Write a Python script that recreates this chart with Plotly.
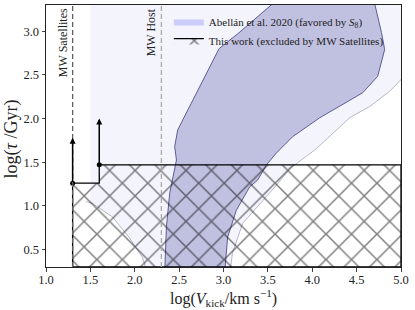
import plotly.graph_objects as go

# ---------------- data ----------------
x_range = [1.0, 5.0]
y_range = [0.3, 3.3]
x_ticks = [1.0, 1.5, 2.0, 2.5, 3.0, 3.5, 4.0, 4.5, 5.0]
y_ticks = [0.5, 1.0, 1.5, 2.0, 2.5, 3.0]

mw_sat_v = 1.3
mw_host_v = 2.3

# exclusion region (this work)
excl_x = [1.3, 1.3, 1.6, 1.6, 5.0, 5.0, 1.3]
excl_y = [0.3, 1.26, 1.26, 1.47, 1.47, 0.3, 0.3]

# lower limits (arrows)
arrow_x = [1.3, 1.6]
arrow_base = [1.26, 1.47]
arrow_top = [1.78, 2.0]

# Abellan et al. 2020 inner (favored) contour
fav_x = [2.33, 2.34, 2.357, 2.394, 2.47, 2.45, 2.484, 2.656, 2.80, 2.95, 3.16, 3.38, 3.56, 3.6,
         4.64, 4.70, 4.78, 4.816, 4.737, 4.568, 4.31, 4.083, 3.78, 3.596, 3.483, 3.385,
         3.295, 3.145, 3.047, 3.014, 3.01]
fav_y = [0.2, 0.30, 0.759, 1.146, 1.525, 1.678, 1.87, 2.215, 2.50, 2.80, 2.97, 3.16, 3.32, 3.4,
         3.4, 3.33, 2.985, 2.79, 2.483, 2.295, 2.138, 2.008, 1.793, 1.606, 1.468, 1.295,
         1.218, 0.95, 0.644, 0.30, 0.2]

# Abellan et al. 2020 outer (allowed) region
outer_x = [1.5, 1.5, 1.523, 1.748, 1.932, 2.086, 2.123, 2.15, 3.07, 3.08, 3.10, 3.216,
           3.596, 3.746, 4.047, 4.42, 4.647, 4.87, 5.04, 5.1, 5.1]
outer_y = [3.4, 1.03, 1.028, 0.874, 0.644, 0.414, 0.30, 0.2, 0.2, 0.30, 0.456, 0.80,
           1.236, 1.425, 1.655, 2.008, 2.138, 2.31, 2.48, 2.55, 3.4]
# outer contour edges (drawn as thin lines)
arc_x = [1.45, 1.523, 1.748, 1.932, 2.086, 2.123, 2.15]
arc_y = [1.05, 1.028, 0.874, 0.644, 0.414, 0.30, 0.2]
edge_x = [3.07, 3.08, 3.10, 3.216, 3.596, 3.746, 4.047, 4.42, 4.647, 4.87, 5.04, 5.1]
edge_y = [0.2, 0.30, 0.456, 0.80, 1.236, 1.425, 1.655, 2.008, 2.138, 2.31, 2.48, 2.55]

# ---------------- style ----------------
FONT = "Liberation Serif, DejaVu Serif, serif"
inner_fill = "rgb(192,192,224)"
inner_line = "rgb(92,92,150)"
outer_fill = "rgb(244,244,253)"
outer_line = "rgb(175,175,195)"

fig = go.Figure()

fig.add_trace(go.Scatter(x=outer_x, y=outer_y, fill="toself", fillcolor=outer_fill,
                         mode="none", hoverinfo="skip", showlegend=False))
fig.add_trace(go.Scatter(x=fav_x, y=fav_y, fill="toself", fillcolor=inner_fill,
                         mode="lines", line=dict(color=inner_line, width=1),
                         hoverinfo="skip", showlegend=False))
fig.add_trace(go.Scatter(x=arc_x + [None] + edge_x, y=arc_y + [None] + edge_y,
                         mode="lines", line=dict(color=outer_line, width=0.9),
                         hoverinfo="skip", showlegend=False))

# legend proxy for Abellan
fig.add_trace(go.Scatter(x=[None], y=[None], fill="toself", fillcolor="rgb(204,204,250)",
                         mode="lines", line=dict(width=0, color="rgb(204,204,250)"),
                         name="Abellán et al. 2020 (favored by <i>S</i><sub>8</sub>)"))

# dashed reference lines
fig.add_vline(x=mw_sat_v, line=dict(color="rgb(95,95,95)", width=1.3, dash="5px,3px"), layer="above")
fig.add_vline(x=mw_host_v, line=dict(color="rgb(170,170,170)", width=1.3, dash="5px,3px"), layer="above")

# hatched exclusion
fig.add_trace(go.Scatter(x=excl_x, y=excl_y, fill="toself", fillcolor="rgba(0,0,0,0)",
                         fillpattern=dict(shape="x", size=18, solidity=0.16, fgcolor="#000000",
                                          bgcolor="rgba(255,255,255,0)"),
                         mode="lines", line=dict(color="black", width=1.3),
                         name="This work (excluded by MW Satellites)"))

# lower-limit markers
fig.add_trace(go.Scatter(x=arrow_x, y=arrow_base, mode="markers",
                         marker=dict(color="black", size=5), showlegend=False, hoverinfo="skip"))
for xa, yb, yt in zip(arrow_x, arrow_base, arrow_top):
    fig.add_annotation(x=xa, y=yt, ax=xa, ay=yb, xref="x", yref="y", axref="x", ayref="y",
                       showarrow=True, arrowhead=2, arrowsize=0.8, arrowwidth=1.5,
                       arrowcolor="black", text="")

# labels
fig.add_annotation(x=mw_sat_v, y=1, xref="x", yref="paper", text="MW Satellites",
                   textangle=-90, showarrow=False, xanchor="right", yanchor="top",
                   xshift=-1, yshift=-1, font=dict(family=FONT, size=12, color="#222"))
fig.add_annotation(x=mw_host_v, y=1, xref="x", yref="paper", text="MW Host",
                   textangle=-90, showarrow=False, xanchor="right", yanchor="top",
                   xshift=-1, yshift=-1, font=dict(family=FONT, size=12, color="#222"))

# axis titles
fig.add_annotation(x=0.5, y=-0.118, xref="paper", yref="paper", showarrow=False,
                   text="log(<i>V</i><sub>kick</sub>/km s<sup>−1</sup>)",
                   xanchor="center", yanchor="middle", font=dict(family=FONT, size=16, color="#222"))
fig.add_annotation(x=-0.096, y=0.49, xref="paper", yref="paper", showarrow=False,
                   text="log(<i>τ</i> /Gyr)", textangle=-90,
                   xanchor="center", yanchor="middle", font=dict(family=FONT, size=18, color="#222"))

fig.update_layout(
    width=415, height=310,
    margin=dict(l=46, r=14, t=5, b=43),
    plot_bgcolor="white", paper_bgcolor="white",
    font=dict(family=FONT, size=12.5, color="#222"),
    legend=dict(x=0.346, y=0.992, xanchor="left", yanchor="top", bgcolor="rgba(0,0,0,0)",
                font=dict(family=FONT, size=11), tracegroupgap=0, itemwidth=30),
    showlegend=True,
)
fig.update_xaxes(range=x_range, tickvals=x_ticks, ticktext=[f"{v:.1f}" for v in x_ticks],
                 showgrid=False, zeroline=False, ticks="outside", ticklen=3.5,
                 linecolor="#222", linewidth=1, mirror=True, automargin=False,
                 ticklabelstandoff=-3)
fig.update_yaxes(range=y_range, tickvals=y_ticks, ticktext=[f"{v:.1f}" for v in y_ticks],
                 showgrid=False, zeroline=False, ticks="outside", ticklen=3.5,
                 linecolor="#222", linewidth=1, mirror=True, automargin=False)

fig.write_html("out.html", config={"displayModeBar": False},
               post_script="document.body.style.margin='0';document.body.style.padding='0';")
